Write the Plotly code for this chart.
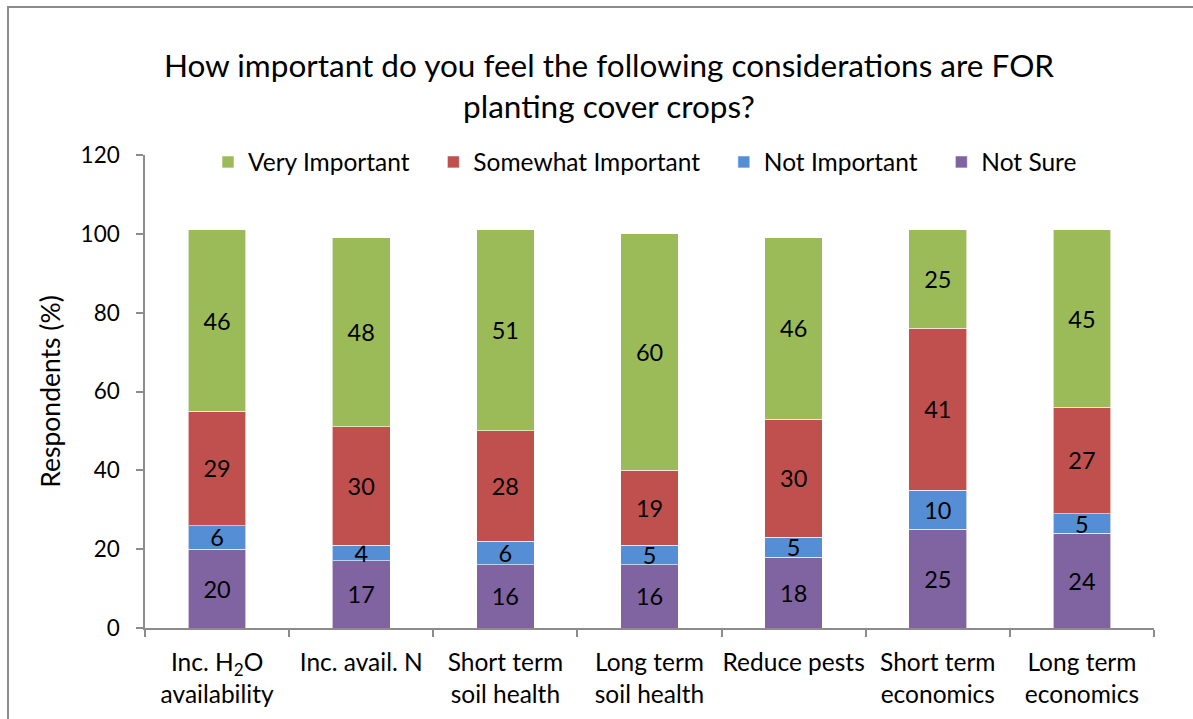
import plotly.graph_objects as go

categories = [
    "Inc. H<sub>2</sub>O<br>availability",
    "Inc. avail. N",
    "Short term<br>soil health",
    "Long term<br>soil health",
    "Reduce pests",
    "Short term<br>economics",
    "Long term<br>economics",
]

not_sure = [20, 17, 16, 16, 18, 25, 24]
not_important = [6, 4, 6, 5, 5, 10, 5]
somewhat_important = [29, 30, 28, 19, 30, 41, 27]
very_important = [46, 48, 51, 60, 46, 25, 45]

# legend entries get a little trailing padding so the items spread out
PAD = "\u00a0\u00a0\u00a0"
series = [
    ("Not Sure", not_sure, "#8064A2"),
    ("Not Important" + PAD, not_important, "#558ED5"),
    ("Somewhat Important" + PAD, somewhat_important, "#C0504D"),
    ("Very Important" + PAD, very_important, "#9BBB59"),
]

FONT = "Lato, Carlito, Calibri, 'Noto Sans', sans-serif"

W, H = 1193, 719
L, R, T, B = 145, 1154, 155, 628

fig = go.Figure()
for name, vals, color in series:
    fig.add_trace(go.Bar(
        name=name,
        x=categories,
        y=vals,
        marker=dict(color=color, line=dict(color="rgba(255,255,255,0.6)", width=1)),
        text=[str(v) for v in vals],
        textposition="inside",
        insidetextanchor="middle",
        textangle=0,
        constraintext="none",
        textfont=dict(family=FONT, size=23.5, color="black"),
        hoverinfo="skip",
    ))

# outer frame of the chart area
fig.add_shape(
    type="rect", xref="paper", yref="paper",
    x0=(8 - L) / (R - L), x1=1.2,
    y0=-0.5, y1=(B - 7) / (B - T),
    line=dict(color="#8C8C8C", width=2),
    fillcolor="rgba(0,0,0,0)",
    layer="below",
)

fig.update_layout(
    width=W, height=H,
    barmode="stack",
    bargap=0.6,
    paper_bgcolor="white",
    plot_bgcolor="white",
    margin=dict(l=L, r=W - R, t=T, b=H - B, autoexpand=False),
    font=dict(family=FONT, size=22, color="black"),
    title=dict(
        text="How important do you feel the following considerations are FOR<br>planting cover crops?",
        x=609 / W, xanchor="center",
        y=1 - 77 / H, yanchor="middle",
        font=dict(family=FONT, size=31.5, color="black"),
    ),
    legend=dict(
        orientation="h",
        traceorder="reversed",
        x=(645 - L) / (R - L), xanchor="center",
        y=(B - 162) / (B - T), yanchor="middle",
        font=dict(family=FONT, size=24.5, color="black"),
        bgcolor="rgba(0,0,0,0)",
        itemwidth=30,
    ),
    xaxis=dict(
        showline=True, linecolor="#8C8C8C", linewidth=1.5,
        ticks="outside", ticklen=7, tickcolor="#8C8C8C", tickwidth=1.5,
        tickson="boundaries",
        tickangle=0,
        showgrid=False,
        tickfont=dict(family=FONT, size=24.5, color="black"),
        ticklabelstandoff=12,
        fixedrange=True,
    ),
    yaxis=dict(
        range=[0, 120],
        tickvals=[0, 20, 40, 60, 80, 100, 120],
        showline=True, linecolor="#8C8C8C", linewidth=1.5,
        ticks="outside", ticklen=7, tickcolor="#8C8C8C", tickwidth=1.5,
        showgrid=False, zeroline=False,
        tickfont=dict(family=FONT, size=22.5, color="black"),
        ticklabelstandoff=12,
        title=dict(text="Respondents (%)", standoff=12,
                   font=dict(family=FONT, size=26.5, color="black")),
        fixedrange=True,
    ),
)

fig.write_html("out.html")
